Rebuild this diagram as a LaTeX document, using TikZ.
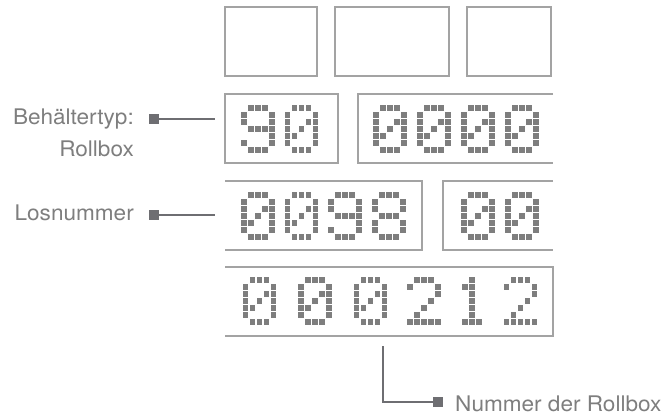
\documentclass[tikz,border=0pt]{standalone}
\usepackage{fontspec}
\setmainfont{TeX Gyre Heros}[FakeStretch=1.05]
\definecolor{boxc}{HTML}{A3A3A3}
\definecolor{dotc}{HTML}{7E7E7E}
\definecolor{connc}{HTML}{6E6E72}
\definecolor{txtc}{HTML}{7E7E7E}
\def\dZero{1/0,2/0,3/0,0/1,4/1,0/2,3/2,4/2,0/3,2/3,4/3,0/4,1/4,4/4,0/5,4/5,1/6,2/6,3/6}
\def\dNine{1/0,2/0,3/0,0/1,4/1,0/2,4/2,1/3,2/3,3/3,4/3,4/4,0/5,4/5,1/6,2/6,3/6}
\def\dEight{1/0,2/0,3/0,0/1,4/1,0/2,4/2,1/3,2/3,3/3,0/4,4/4,0/5,4/5,1/6,2/6,3/6}
\def\dTwo{1/0,2/0,3/0,0/1,4/1,4/2,3/3,2/4,1/5,0/6,1/6,2/6,3/6,4/6}
\def\dOne{2/0,1/1,2/1,2/2,2/3,2/4,2/5,1/6,2/6,3/6}
\newcommand\dmdigit[3]{\foreach \cc/\rr in #3 {\fill[dotc] ({#1+\cc*7},{#2+\rr*7}) rectangle ++(5.5,5.5);}}
\begin{document}
\begin{tikzpicture}[x=1pt,y=-1pt,
  boxline/.style={draw=boxc,line width=2pt},
  conn/.style={draw=connc,line width=2pt},
  marker/.style={fill=connc,minimum size=10pt,inner sep=0pt,outer sep=0pt},
  lbl/.style={text=txtc,inner sep=0pt,font=\fontsize{21.5}{25}\selectfont}]
\useasboundingbox (0,0) rectangle (669,416);
% row 1 boxes
\draw[boxline] (225.3,7.3) rectangle (317.3,76);
\draw[boxline] (335.3,7.3) rectangle (448.7,76);
\draw[boxline] (466.7,7.3) rectangle (551.3,76);
% row 2
\draw[boxline] (225.3,94) rectangle (337.7,162.7);
\draw[boxline] (553,94) -- (358,94) -- (358,162.7) -- (553,162.7);
% row 3
\draw[boxline] (225,180.7) -- (421.7,180.7) -- (421.7,250) -- (225,250);
\draw[boxline] (553,180.7) -- (443.3,180.7) -- (443.3,250) -- (553,250);
% row 4
\draw[boxline] (225,267.3) -- (553,267.3) -- (553,336) -- (225,336);
% digits row 2
\dmdigit{241}{105}{\dNine}
\dmdigit{284.5}{105}{\dZero}
\dmdigit{373}{105}{\dZero}
\dmdigit{417}{105}{\dZero}
\dmdigit{461}{105}{\dZero}
\dmdigit{505}{105}{\dZero}
% digits row 3
\dmdigit{241}{192.3}{\dZero}
\dmdigit{284.5}{192.3}{\dZero}
\dmdigit{328}{192.3}{\dNine}
\dmdigit{372}{192.3}{\dEight}
\dmdigit{461}{192.3}{\dZero}
\dmdigit{505}{192.3}{\dZero}
% digits row 4
\dmdigit{242.5}{277.3}{\dZero}
\dmdigit{298}{277.3}{\dZero}
\dmdigit{353.5}{277.3}{\dZero}
\dmdigit{407}{277.3}{\dTwo}
\dmdigit{455}{277.3}{\dOne}
\dmdigit{503.5}{277.3}{\dTwo}
% labels and connectors
\node[lbl,anchor=base east] (t1) at (134,124) {Behältertyp:};
\node[lbl,anchor=base east] (t1b) at (134,156) {Rollbox};
\node[lbl,anchor=base east] (t2) at (134,220) {Losnummer};
\node[lbl,anchor=base west] (t3) at (455,411.5) {Nummer der Rollbox};
\node[marker] (m1) at (154,119) {};
\node[marker] (m2) at (154,215) {};
\node[marker] (m3) at (438,402) {};
\coordinate (b1) at (215,119);
\coordinate (b2) at (215,215);
\coordinate (b3) at (383.3,346);
\draw[conn] (m1) -- (b1);
\draw[conn] (m2) -- (b2);
\draw[conn] (b3) |- (m3);
\end{tikzpicture}
\end{document}
